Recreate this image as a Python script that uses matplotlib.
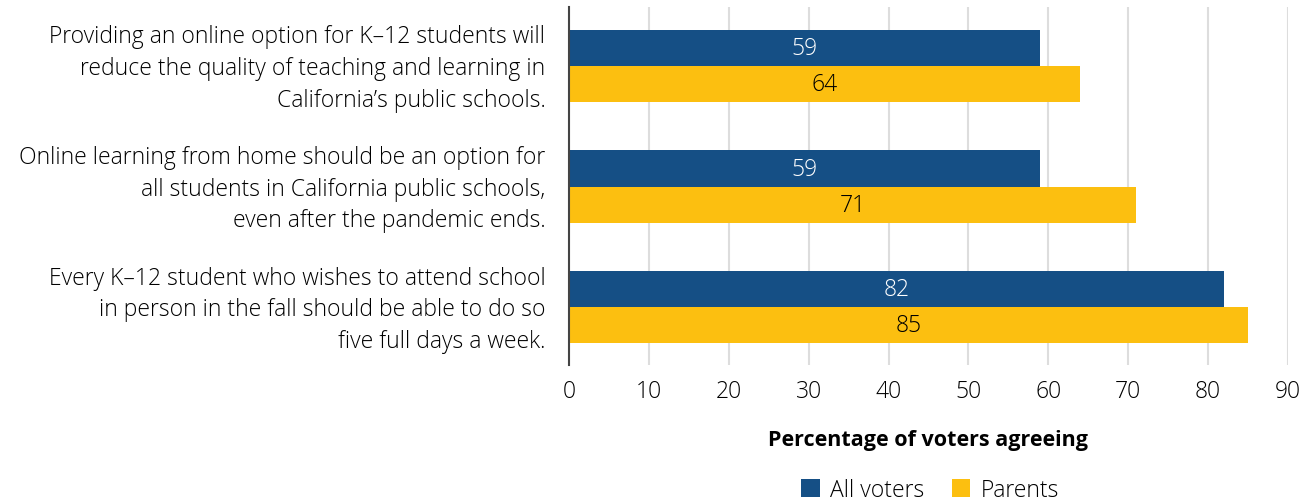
import matplotlib
matplotlib.use("Agg")
import matplotlib.pyplot as plt
import matplotlib.transforms as mtransforms
import numpy as np

plt.rcParams['font.family'] = ['Open Sans', 'DejaVu Sans']
plt.rcParams['font.weight'] = 'light'

statements = [
    "Providing an online option for K\u201312 students will\nreduce the quality of teaching and learning in\nCalifornia\u2019s public schools.",
    "Online learning from home should be an option for\nall students in California public schools,\neven after the pandemic ends.",
    "Every K\u201312 student who wishes to attend school\nin person in the fall should be able to do so\nfive full days a week.",
]
all_voters = [59, 59, 82]
parents = [64, 71, 85]
ticks = [0, 10, 20, 30, 40, 50, 60, 70, 80, 90]

blue = "#154f85"
gold = "#fcbf10"
fs = 16.5

fig = plt.figure(figsize=(13.15, 5.02), dpi=100)
ax = fig.add_axes([569/1315, 1 - 366/502, (1288 - 569)/1315, 358/502])

y = np.arange(len(statements))
h = 0.3
b1 = ax.barh(y - h/2, all_voters, height=h, color=blue, label="All voters", zorder=3)
b2 = ax.barh(y + h/2, parents, height=h, color=gold, label="Parents", zorder=3)

for bar, v in zip(b1, all_voters):
    ax.text(v/2, bar.get_y() + bar.get_height()/2, str(v), ha="center", va="center",
            color="white", fontsize=fs, zorder=4)
for bar, v in zip(b2, parents):
    ax.text(v/2, bar.get_y() + bar.get_height()/2, str(v), ha="center", va="center",
            color="black", fontsize=fs, zorder=4)

ax.set_xlim(0, 90)
ax.set_ylim(2.48, -0.49)
ax.set_xticks(ticks)
ax.set_xticklabels([str(t) for t in ticks], fontsize=fs)
ax.set_yticks(y)
ax.set_yticklabels(statements, fontsize=fs, linespacing=1.42, ha="right")
ax.tick_params(axis="both", length=0)
ax.tick_params(axis="x", pad=10)
ax.tick_params(axis="y", pad=17)

# nudge the statement labels up a little so the middle line sits on the group centre
shift = mtransforms.ScaledTranslation(0, 3.5/72, fig.dpi_scale_trans)
for lbl in ax.get_yticklabels():
    lbl.set_transform(lbl.get_transform() + shift)

ax.grid(axis="x", color="#dddddd", linewidth=1.5, zorder=0)
for s in ["top", "right", "bottom"]:
    ax.spines[s].set_visible(False)
ax.spines["left"].set_color("#444444")
ax.spines["left"].set_linewidth(1.5)
ax.spines["left"].set_zorder(5)

ax.set_xlabel("Percentage of voters agreeing", fontsize=15.5, fontweight="bold", labelpad=19)

fig.legend(handles=[b1, b2], loc="center", bbox_to_anchor=(930/1315, 1 - 491/502),
           ncol=2, frameon=False, fontsize=fs, handlelength=0.8, handleheight=0.8,
           handletextpad=0.45, columnspacing=1.2, borderpad=0.2)

fig.savefig("out.png", dpi=100)
